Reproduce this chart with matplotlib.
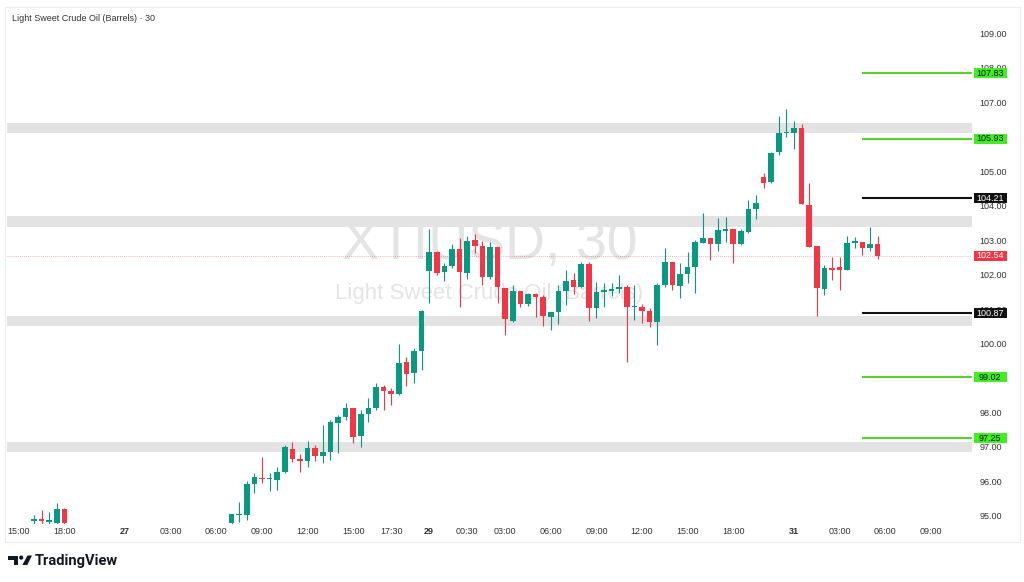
import matplotlib
matplotlib.use('Agg')
import matplotlib.pyplot as plt
from matplotlib import patches, transforms

# bar index (30 min bars, trading-time axis), OHLC
bars = [0, 1, 2, 3, 4] + list(range(26, 112))
opens = [94.85, 94.90, 94.84, 94.80, 95.20,
         94.80, 95.03, 95.03, 95.93, 96.09, 96.07, 96.04, 96.27, 96.93, 96.64,
         96.59, 96.96, 96.74, 96.86, 97.70, 97.88, 98.12, 97.32, 97.95, 98.14,
         98.75, 98.62, 98.54, 99.47, 99.14, 99.78, 102.11, 102.64, 102.08, 102.25,
         102.74, 102.05, 103.00, 102.83, 101.92, 102.81, 101.62, 100.66, 101.53, 101.14,
         101.43, 101.34, 100.76, 100.90, 101.53, 101.84, 101.63, 102.30, 101.02, 101.50,
         101.53, 101.57, 101.65, 101.05, 101.05, 100.95, 100.63, 101.70, 102.37, 101.67,
         102.01, 102.21, 102.92, 103.05, 102.88, 103.27, 103.31, 102.88, 103.24, 103.89,
         104.83, 104.67, 105.56, 106.09, 106.11, 106.24, 104.01, 102.83, 101.58, 102.18,
         102.21, 102.13, 102.92, 102.95, 102.76, 102.88]
highs = [95.03, 95.17, 95.12, 95.39, 95.22,
         95.07, 95.41, 96.00, 96.26, 96.72, 96.25, 96.43, 97.06, 97.15, 96.80,
         97.18, 97.06, 97.64, 97.78, 97.93, 98.28, 98.13, 98.07, 98.41, 98.85,
         98.80, 98.70, 99.99, 99.62, 99.86, 100.97, 103.31, 102.68, 102.34, 102.88,
         103.05, 103.12, 103.17, 102.98, 102.95, 102.81, 101.62, 101.70, 101.53, 101.46,
         101.45, 101.41, 100.92, 101.70, 102.13, 102.05, 102.37, 102.37, 101.79, 101.74,
         101.76, 101.99, 101.70, 101.70, 101.14, 101.02, 101.74, 102.76, 102.37, 102.34,
         102.66, 103.00, 103.79, 103.05, 103.63, 103.66, 103.31, 103.32, 104.16, 104.30,
         104.95, 105.55, 106.59, 106.79, 106.46, 106.36, 104.66, 102.83, 102.28, 102.52,
         102.52, 103.12, 103.08, 102.95, 103.39, 103.12]
lows = [94.70, 94.70, 94.70, 94.70, 94.70,
        94.70, 94.83, 94.88, 95.66, 95.95, 95.73, 95.75, 96.24, 96.57, 96.28,
        96.41, 96.60, 96.55, 96.62, 96.82, 97.78, 97.11, 97.01, 97.73, 98.07,
        98.07, 98.22, 98.51, 98.77, 98.85, 99.23, 101.18, 101.99, 101.81, 102.18,
        101.05, 101.86, 102.63, 101.70, 101.86, 101.17, 100.25, 100.63, 101.05, 101.09,
        100.78, 100.51, 100.39, 100.57, 101.12, 101.43, 101.60, 100.66, 100.73, 101.07,
        101.38, 101.47, 99.47, 100.68, 100.59, 100.47, 99.96, 101.65, 101.55, 101.31,
        101.74, 101.46, 102.90, 102.42, 102.69, 102.95, 102.32, 102.86, 103.21, 103.60,
        104.50, 104.64, 105.46, 106.00, 105.63, 104.03, 102.81, 100.80, 101.41, 101.84,
        101.55, 102.13, 102.76, 102.57, 102.69, 102.44]
closes = [94.90, 94.85, 94.86, 95.20, 94.80,
          95.05, 95.05, 95.92, 96.12, 96.06, 96.10, 96.28, 96.99, 96.66, 96.59,
          96.96, 96.74, 96.86, 97.73, 97.88, 98.12, 97.30, 97.95, 98.12, 98.75,
          98.62, 98.54, 99.44, 99.12, 99.79, 100.95, 102.64, 102.03, 102.25, 102.74,
          102.08, 102.98, 102.83, 101.94, 102.81, 101.65, 100.70, 101.53, 101.14, 101.43,
          101.34, 100.80, 100.90, 101.53, 101.82, 101.63, 102.30, 101.02, 101.50, 101.55,
          101.57, 101.65, 101.05, 101.09, 100.95, 100.63, 101.70, 102.37, 101.70, 102.01,
          102.21, 102.95, 103.05, 102.88, 103.29, 103.31, 102.88, 103.27, 103.89, 104.08,
          104.66, 105.53, 106.11, 106.14, 106.24, 104.03, 102.81, 101.62, 102.18, 102.13,
          102.13, 102.92, 102.94, 102.76, 102.88, 102.54]

# time axis labels
tick_bars = [-2, 4, 12, 18, 24, 30, 36, 42, 47, 52, 57, 62, 68, 74, 80, 86, 92, 100, 106, 112, 118]
tick_text = ['15:00', '18:00', '27', '03:00', '06:00', '09:00', '12:00', '15:00', '17:30', '29',
             '00:30', '03:00', '06:00', '09:00', '12:00', '15:00', '18:00', '31', '03:00', '06:00', '09:00']
day_labels = ['27', '29', '31']

# zones and levels
zones = [(106.09, 106.40), (103.39, 103.70), (100.51, 100.80), (96.86, 97.15)]
green_levels = [107.83, 105.93, 99.02, 97.25]
black_levels = [104.21, 100.87]
last_price = 102.54
level_start = 108.95

UP = '#089981'
DOWN = '#f23645'
NARROW = ['Liberation Sans Narrow', 'Liberation Sans', 'DejaVu Sans']

W, H = 1024, 582
L, R, T, B = 7, 972, 8, 524
fig = plt.figure(figsize=(W / 100, H / 100), dpi=100)
fig.patch.set_facecolor('white')
ax = fig.add_axes([L / W, 1 - B / H, (R - L) / W, (B - T) / H])
ax.set_xlim(-3.55, 123.42)
ax.set_ylim(94.768, 109.725)
for s in ax.spines.values():
    s.set_visible(False)

# watermark
ax.text(0.5, 0.541, 'XTIUSD, 30', transform=ax.transAxes, ha='center', va='center',
        fontsize=40, color='#e4e4e4', family=['Liberation Sans', 'DejaVu Sans'], zorder=0)
ax.text(0.5, 0.446, 'Light Sweet Crude Oil (Barrels)', transform=ax.transAxes, ha='center',
        va='center', fontsize=16, color='#e4e4e4', family=['Liberation Sans', 'DejaVu Sans'], zorder=0)

for lo, hi in zones:
    ax.axhspan(lo, hi, color='#e3e3e3', lw=0, zorder=1)

ax.axhline(last_price, color=DOWN, lw=0.6, alpha=0.5, ls=(0, (1, 1.5)), zorder=1.5)

# candles
for x, o, h, l, c in zip(bars, opens, highs, lows, closes):
    col = UP if c >= o else DOWN
    ax.vlines(x, l, h, color=col, lw=0.8, zorder=2)
    ax.bar(x, max(abs(c - o), 0.04), bottom=min(o, c), width=0.74, color=col, lw=0, zorder=3)

xr = ax.get_xlim()[1]
for p in green_levels:
    ax.hlines(p, level_start, xr, color='#57d22c', lw=1.5, zorder=4)
for p in black_levels:
    ax.hlines(p, level_start, xr, color='#111111', lw=1.5, zorder=4)

# axes labels
ax.set_xticks(tick_bars, tick_text)
ax.tick_params(axis='x', length=0, pad=2.5, labelsize=6.5, labelcolor='#333333')
for t in ax.get_xticklabels():
    t.set_family(NARROW)
    if t.get_text() in day_labels:
        t.set_fontweight('bold')
ax.yaxis.tick_right()
yt = list(range(95, 110))
ax.set_yticks(yt, [f'{v:.2f}' for v in yt])
ax.tick_params(axis='y', length=0, pad=5.5, labelsize=6.5, labelcolor='#333333')
for t in ax.get_yticklabels():
    t.set_family(NARROW)

# price tags on the scale
trans = transforms.blended_transform_factory(ax.transAxes, ax.transData)
bx = (973.5 - L) / (R - L)
bw = 33 / (R - L)
bh = 10 / 34.5
tags = [(p, '#41ee22', '#111111') for p in green_levels] + \
       [(p, '#111111', 'white') for p in black_levels] + [(last_price, DOWN, 'white')]
for p, bg, fg in tags:
    ax.add_patch(patches.Rectangle((bx, p - bh / 2), bw, bh, transform=trans,
                                   color=bg, lw=0, clip_on=False, zorder=5))
    ax.text(bx + bw / 2, p, f'{p:.2f}', transform=trans, ha='center', va='center',
            fontsize=6.5, color=fg, family=NARROW, clip_on=False, zorder=6)

# overlay: title, frame, logo
ov = fig.add_axes([0, 0, 1, 1], zorder=3)
ov.set_xlim(0, W)
ov.set_ylim(H, 0)
ov.axis('off')
ov.add_patch(patches.Rectangle((5, 7), 1015, 535, fill=False, ec='#ededed', lw=0.8))
ov.text(12, 18.3, 'Light Sweet Crude Oil (Barrels) \u00b7 30', ha='left', va='center',
        fontsize=6.5, color='#333333', family=NARROW)
ov.add_patch(patches.Rectangle((8, 555.5), 10, 4, color='#131722', lw=0))
ov.add_patch(patches.Rectangle((13.5, 555.5), 4.5, 9.5, color='#131722', lw=0))
ov.add_patch(patches.Circle((21.2, 557.6), 2.1, color='#131722', lw=0))
ov.add_patch(patches.Polygon([(22.3, 565), (27.3, 565), (32, 555.5), (27.5, 555.5)],
                             closed=True, color='#131722', lw=0))
ov.text(34.5, 561, 'TradingView', ha='left', va='center', fontsize=10.5, fontweight='bold',
        color='#131722', family=['Roboto', 'DejaVu Sans'])

fig.savefig('out.png', dpi=100, facecolor='white')
